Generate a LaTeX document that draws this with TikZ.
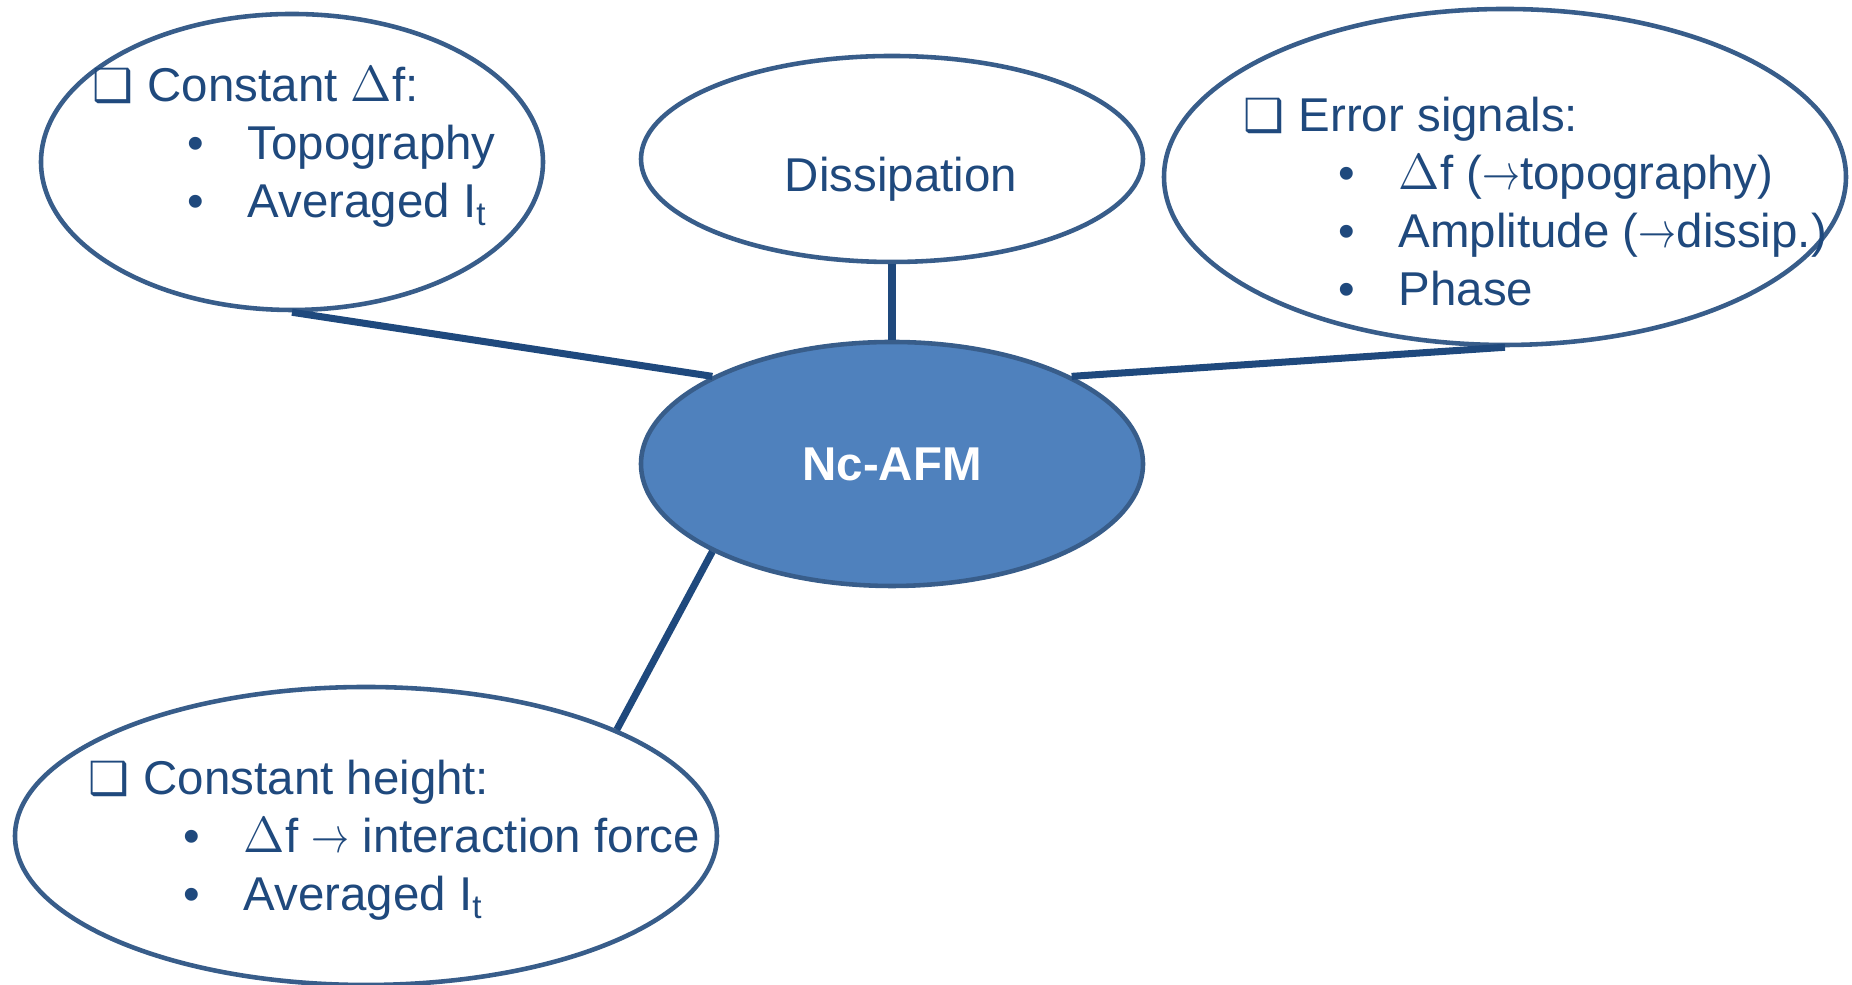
\documentclass[tikz,border=0pt]{standalone}
\usepackage{fontspec}
\setmainfont{Liberation Sans}
\newfontfamily\dvsym{DejaVu Sans}
\usetikzlibrary{shapes.geometric}
\definecolor{txtblue}{RGB}{31,73,125}
\definecolor{rimblue}{RGB}{56,93,138}
\definecolor{afmblue}{RGB}{79,129,189}
\newcommand{\chk}{{\dvsym\fontsize{13}{13}\selectfont ❑}}
\newcommand{\boxline}[1]{\makebox[0.55cm][l]{\chk}#1}
\newcommand{\bulline}[1]{\hspace*{0.95cm}\makebox[0.6cm][l]{\textbullet}#1}
\newcommand{\arr}{\scalebox{0.75}[1]{$\rightarrow$}}

\begin{document}
\begin{tikzpicture}[
    bubble/.style={ellipse, draw=rimblue, line width=1.3pt, fill=white, inner sep=0pt,
        text=txtblue, font=\fontsize{13.5}{16.5}\selectfont},
    spoke/.style={draw=txtblue, line width=2pt},
    listtext/.style={anchor=base west, inner sep=0pt, text=txtblue, font=\fontsize{13.5}{16.5}\selectfont}
]
\useasboundingbox (0,0) rectangle (18.52,9.85);

% Centre
\node[bubble, fill=afmblue, text=white, font=\fontsize{13.5}{16.5}\selectfont\bfseries,
    minimum width=5.02cm, minimum height=2.44cm] (afm) at (8.92,5.21) {Nc-AFM};

% Outer bubbles
\node[bubble, minimum width=5.02cm, minimum height=2.06cm] (diss) at (8.92,8.26)
    {\hspace*{0.18cm}\raisebox{-0.2cm}[\height][\depth]{Dissipation}};
\node[bubble, minimum width=5.02cm, minimum height=2.96cm] (cdf) at (2.92,8.23) {};
\node[bubble, minimum width=6.82cm, minimum height=3.36cm] (err) at (15.05,8.08) {};
\node[bubble, minimum width=7.02cm, minimum height=2.98cm] (cht) at (3.66,1.49) {};

% Spokes
\draw[spoke] (cdf.south) -- (afm.154);
\draw[spoke] (diss.south) -- (afm.north);
\draw[spoke] (afm.26) -- (err.south);
\draw[spoke] (afm.206) -- (cht.23.5);

% Texts
\node[listtext] (cdftext) at (0.92,8.83) {\begin{tabular}[t]{@{}l@{}}
\boxline{Constant $\Delta$f:}\\
\bulline{Topography}\\
\bulline{Averaged I\textsubscript{t}}
\end{tabular}};
\node[listtext] (errtext) at (12.43,8.53) {\begin{tabular}[t]{@{}l@{}}
\boxline{Error signals:}\\
\bulline{$\Delta$f (\arr topography)}\\
\bulline{Amplitude (\arr dissip.)}\\
\bulline{Phase}
\end{tabular}};
\node[listtext] (chttext) at (0.88,1.90) {\begin{tabular}[t]{@{}l@{}}
\boxline{Constant height:}\\
\bulline{$\Delta$f \arr{} interaction force}\\
\bulline{Averaged I\textsubscript{t}}
\end{tabular}};

\end{tikzpicture}
\end{document}
